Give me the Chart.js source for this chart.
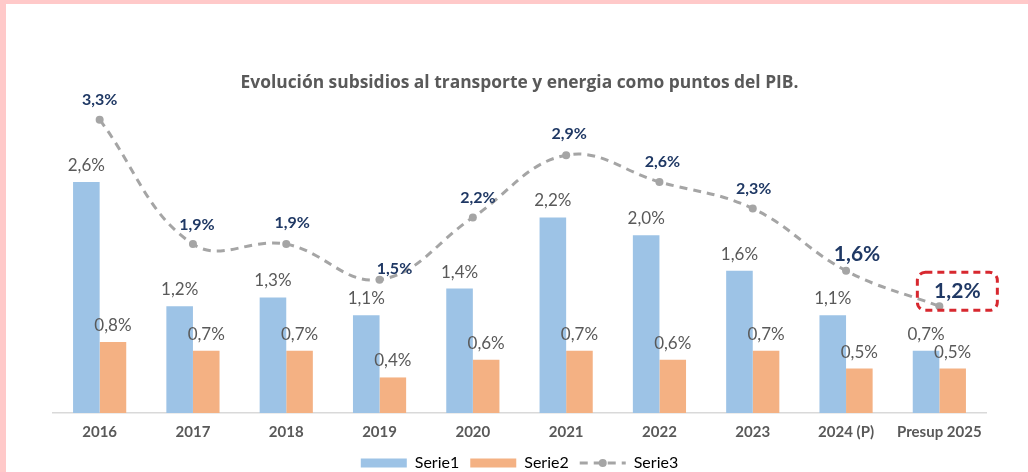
<!DOCTYPE html>
<html>
<head>
<meta charset="utf-8">
<script src="https://cdn.jsdelivr.net/npm/chart.js@4/dist/chart.umd.min.js"></script>
<style>
  html, body { margin: 0; padding: 0; background: #ffc9c9; }
  #wrap { position: absolute; left: 6px; top: 4px; width: 1022px; height: 468px; background: #fff; }
</style>
</head>
<body>
<div id="wrap"><canvas id="myChart" width="1022" height="468"></canvas></div>
<script>
// valores (% del PIB)
const years = ["2016", "2017", "2018", "2019", "2020", "2021", "2022", "2023", "2024 (P)", "Presup 2025"];
const serie1 = [2.6, 1.2, 1.3, 1.1, 1.4, 2.2, 2.0, 1.6, 1.1, 0.7];
const serie2 = [0.8, 0.7, 0.7, 0.4, 0.6, 0.7, 0.6, 0.7, 0.5, 0.5];
const serie3 = [3.3, 1.9, 1.9, 1.5, 2.2, 2.9, 2.6, 2.3, 1.6, 1.2];

// desplazamiento de las etiquetas de Serie3 respecto al punto
const s3Offsets = [[0, -20], [4, -19], [6, -21], [15, -11], [5, -20], [3, -21], [3, -20], [1, -20], [11, -17], [18, -15]];

const fmt = (v) => v.toFixed(1).replace(".", ",") + "%";
const FONT = "Lato, 'Open Sans', sans-serif";
const GRAY_TXT = "#595959";

const labelPlugin = {
  id: "labels",
  beforeLayout(chart) {
    // leyenda mas baja que lo que da el padding por defecto
    const lg = chart.legend;
    if (lg && !lg._patched) {
      const fit = lg.fit;
      lg.fit = function () {
        fit.call(this);
        this.height = 28;
      };
      lg._patched = true;
    }
  },
  afterDatasetsDraw(chart) {
    const ctx = chart.ctx;
    ctx.save();
    ctx.textAlign = "center";
    // barras
    [0, 1].forEach((di) => {
      const meta = chart.getDatasetMeta(di);
      ctx.font = "17px " + FONT;
      ctx.fillStyle = GRAY_TXT;
      ctx.textBaseline = "bottom";
      meta.data.forEach((el, i) => {
        ctx.fillText(fmt(chart.data.datasets[di].data[i]), el.x, el.y - 8);
      });
    });
    // linea
    const meta = chart.getDatasetMeta(2);
    ctx.textBaseline = "middle";
    ctx.fillStyle = "#1f3864";
    meta.data.forEach((el, i) => {
      const big = i >= 8;
      ctx.font = "bold " + (big ? 21 : 16) + "px " + FONT;
      const x = el.x + s3Offsets[i][0];
      const y = el.y + s3Offsets[i][1];
      ctx.fillText(fmt(serie3[i]), x, y);
      if (i === 9) {
        ctx.save();
        ctx.strokeStyle = "#d7282f";
        ctx.lineWidth = 3;
        ctx.setLineDash([7, 5]);
        ctx.beginPath();
        ctx.roundRect(x - 40, y - 19, 80, 38, 8);
        ctx.stroke();
        ctx.restore();
      }
    });
    // simbolo de Serie3 en la leyenda
    const lg = chart.legend;
    if (lg && lg.legendHitBoxes && lg.legendHitBoxes[2]) {
      const hb = lg.legendHitBoxes[2];
      const cy = hb.top + hb.height / 2;
      ctx.strokeStyle = "#a5a5a5";
      ctx.lineWidth = 3;
      ctx.setLineDash([8, 6]);
      ctx.beginPath();
      ctx.moveTo(hb.left, cy);
      ctx.lineTo(hb.left + 46, cy);
      ctx.stroke();
      ctx.setLineDash([]);
      ctx.fillStyle = "#a5a5a5";
      ctx.beginPath();
      ctx.arc(hb.left + 23, cy, 4, 0, Math.PI * 2);
      ctx.fill();
    }
    ctx.restore();
  },
};

const ctx = document.getElementById("myChart").getContext("2d");
const chart = new Chart(ctx, {
  data: {
    labels: years,
    datasets: [
      {
        type: "bar",
        label: "Serie1",
        data: serie1,
        backgroundColor: "#9dc3e6",
        order: 1,
        categoryPercentage: 0.57,
        barPercentage: 1.0,
      },
      {
        type: "bar",
        label: "Serie2",
        data: serie2,
        backgroundColor: "#f4b183",
        order: 1,
        categoryPercentage: 0.57,
        barPercentage: 1.0,
      },
      {
        type: "line",
        label: "Serie3",
        data: serie3,
        borderColor: "#a5a5a5",
        backgroundColor: "#a5a5a5",
        borderWidth: 3,
        borderDash: [8, 6],
        tension: 0.4,
        pointRadius: 4,
        pointBackgroundColor: "#a5a5a5",
        pointBorderWidth: 0,
        order: 0,
      },
    ],
  },
  options: {
    responsive: false,
    animation: false,
    layout: { padding: { top: 69, left: 47, right: 42, bottom: 0 } },
    plugins: {
      title: {
        display: true,
        text: "Evolución subsidios al transporte y energia como puntos del PIB.",
        color: GRAY_TXT,
        font: { family: "'Open Sans', sans-serif", size: 17.4, weight: "bold" },
        padding: { top: 0, bottom: 8 },
      },
      legend: {
        position: "bottom",
        labels: {
          color: GRAY_TXT,
          font: { family: FONT, size: 16 },
          boxWidth: 46,
          boxHeight: 9,
          padding: 11,
          generateLabels(chart) {
            return chart.data.datasets.map((ds, i) => ({
              text: ds.label,
              fillStyle: i === 2 ? "rgba(0,0,0,0)" : ds.backgroundColor,
              strokeStyle: "rgba(0,0,0,0)",
              lineWidth: 0,
              datasetIndex: i,
            }));
          },
        },
      },
      tooltip: { enabled: false },
    },
    scales: {
      x: {
        grid: { display: false },
        border: { display: true, color: "#d9d9d9", width: 1.5 },
        ticks: { color: GRAY_TXT, font: { family: FONT, size: 15, weight: "bold" }, padding: 2 },
        afterFit(scale) {
          scale.height += 1;
        },
      },
      y: {
        display: false,
        min: 0,
        max: 3.5,
      },
    },
  },
  plugins: [labelPlugin],
});
</script>
</body>
</html>
